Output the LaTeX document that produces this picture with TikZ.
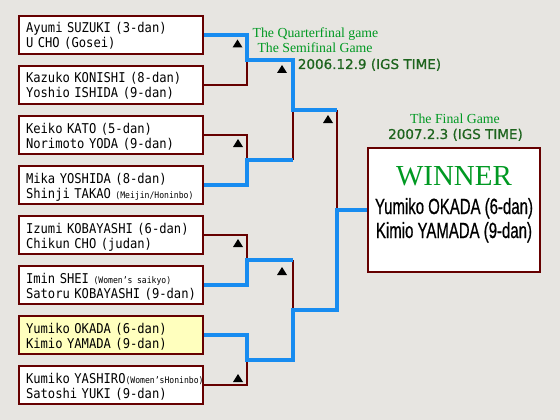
\documentclass[tikz,border=0pt]{standalone}
\usepackage{fontspec}
\newfontfamily\pmono[FakeStretch=0.9]{DejaVu Sans Mono}
\newfontfamily\gserif{Liberation Serif}
\newfontfamily\dsans[FakeBold=0.8]{DejaVu Sans}
\newfontfamily\nsans[FakeStretch=0.68,FakeBold=0.6]{Liberation Sans}
\definecolor{bg}{RGB}{231,229,225}
\definecolor{brd}{RGB}{102,0,0}
\definecolor{blu}{RGB}{24,140,240}
\definecolor{yel}{RGB}{255,255,190}
\definecolor{gtxt}{RGB}{0,153,34}
\definecolor{dgtxt}{RGB}{30,100,30}
\newcommand\smalltag[1]{{\fontsize{9}{15}\selectfont #1}}
\begin{document}
\begin{tikzpicture}[x=1pt,y=-1pt,
  player/.style={draw=brd, line width=2pt, fill=white, minimum width=184pt,
    minimum height=38pt, text width=170pt, inner xsep=7pt, inner ysep=2pt,
    align=left, text height=13pt, text depth=17pt,
    font=\pmono\fontsize{13.5}{15}\selectfont},
  lose/.style={draw=brd, line width=2pt},
  win/.style={draw=blu, line width=4pt},
  tri/.pic={\fill[black] (-5,4) -- (5,4) -- (0,-4) -- cycle;},
  gtitle/.style={text=gtxt, font=\gserif\fontsize{13.8}{15}\selectfont, anchor=base, inner sep=0pt},
  gdate/.style={text=dgtxt, font=\dsans\fontsize{13.5}{15}\selectfont, anchor=base, inner sep=0pt},
  wname/.style={text=black, font=\nsans\fontsize{22}{24}\selectfont, anchor=base, inner sep=0pt}]
\fill[bg] (0,0) rectangle (560,420);
\useasboundingbox (0,0) rectangle (560,420);

% junction coordinates
\coordinate (q1) at (247,60);
\coordinate (q2) at (247,160);
\coordinate (q3) at (247,260);
\coordinate (q4) at (247,360);
\coordinate (s1) at (293,110);
\coordinate (s2) at (293,310);
\coordinate (ft) at (337,110);
\coordinate (f) at (337,210);

% players
\node[player] (p1) at (111,35) {\mbox{Ayumi SUZUKI (3-dan)}\\\mbox{U CHO (Gosei)}};
\node[player] (p2) at (111,85) {\mbox{Kazuko KONISHI (8-dan)}\\\mbox{Yoshio ISHIDA (9-dan)}};
\node[player] (p3) at (111,135) {\mbox{Keiko KATO (5-dan)}\\\mbox{Norimoto YODA (9-dan)}};
\node[player] (p4) at (111,185) {\mbox{Mika YOSHIDA (8-dan)}\\\mbox{Shinji TAKAO \smalltag{(Meijin/Honinbo)}}};
\node[player] (p5) at (111,235) {\mbox{Izumi KOBAYASHI (6-dan)}\\\mbox{Chikun CHO (judan)}};
\node[player] (p6) at (111,285) {\mbox{Imin SHEI \smalltag{(Women’s saikyo)}}\\\mbox{Satoru KOBAYASHI (9-dan)}};
\node[player, fill=yel] (p7) at (111,335) {\mbox{Yumiko OKADA (6-dan)}\\\mbox{Kimio YAMADA (9-dan)}};
\node[player] (p8) at (111,385) {\mbox{Kumiko YASHIRO\smalltag{(Women’sHoninbo)}}\\\mbox{Satoshi YUKI (9-dan)}};

% winner box
\node[draw=brd, line width=2pt, fill=white, minimum width=172pt, minimum height=124pt, inner sep=0pt] (w) at (454,210) {};

% losing connectors
\draw[lose] (p2.east) -| (q1);
\draw[lose] (p3.east) -| (q2);
\draw[lose] (q2 -| s1) -- (s1);
\draw[lose] (p5.east) -| (q3);
\draw[lose] (q3 -| s2) -- (s2);
\draw[lose] (p8.east) -| (q4);
\draw[lose] (ft) -- (f);

% winning connectors
\draw[win] (p1.east) -| (q1) -| (s1) -- (ft);
\draw[win] (p4.east) -| (q2) -- (q2 -| s1);
\draw[win] (p6.east) -| (q3) -- (q3 -| s2);
\draw[win] (p7.east) -| (q4) -| (s2) -| (f) -- (w.west);

% triangles
\pic at (237.5,43.5) {tri};
\pic at (238,143) {tri};
\pic at (238,243) {tri};
\pic at (238,378) {tri};
\pic at (282,69) {tri};
\pic at (282,271) {tri};
\pic at (328,119) {tri};

% titles
\node[gtitle] (t1) at (315.5,38) {The Quarterfinal game};
\node[gtitle] (t2) at (315,53) {The Semifinal Game};
\node[gdate] (d1) at (369.5,69) {2006.12.9 (IGS TIME)};
\node[gtitle] (t3) at (455,124) {The Final Game};
\node[gdate] (d2) at (455.5,139) {2007.2.3 (IGS TIME)};

% winner text
\node[text=gtxt, font=\gserif\fontsize{29}{30}\selectfont, anchor=base, inner sep=0pt] (wt) at (454,185) {WINNER};
\node[wname] (wn1) at (454,214) {Yumiko OKADA (6-dan)};
\node[wname] (wn2) at (454,238) {Kimio YAMADA (9-dan)};
\end{tikzpicture}
\end{document}
